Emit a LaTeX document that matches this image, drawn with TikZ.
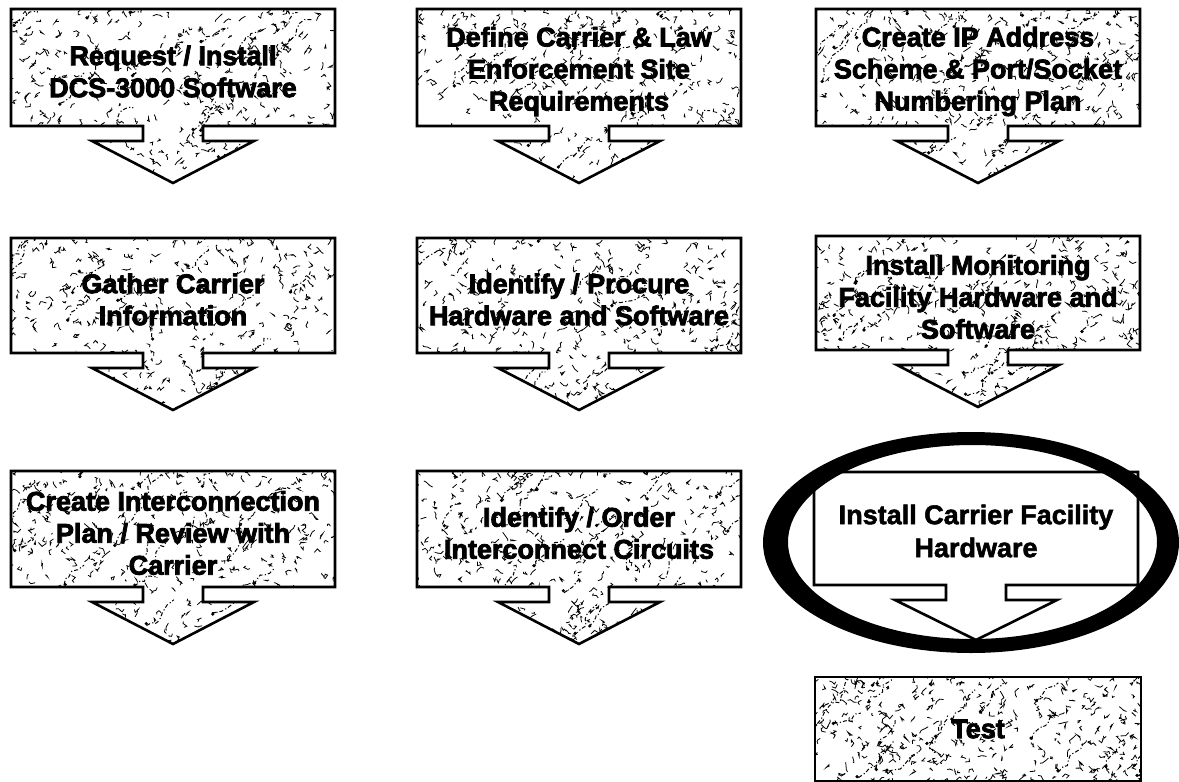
\documentclass[tikz,border=0pt]{standalone}
\usepackage{fontspec}
\newfontfamily\stepfont[BoldFeatures={FakeBold=3}]{Liberation Sans}
\newfontfamily\plainfont[BoldFeatures={FakeBold=2}]{Liberation Sans}
\newcommand\texturefill[5]{%
  \foreach \k in {1,...,#5}{%
    \pgfmathsetmacro\xa{(#1)+rnd*((#2)-(#1))}%
    \pgfmathsetmacro\ya{(#3)+rnd*((#4)-(#3))}%
    \draw[speck] (\xa,\ya) -- ++(4*rand,4*rand) -- ++(4*rand,4*rand) -- ++(3*rand,3*rand);
  }%
  \foreach \k in {1,...,22}{%
    \pgfmathsetmacro\xa{(#1)+rnd*((#2)-(#1))}%
    \pgfmathsetmacro\ya{(#3)+rnd*((#4)-(#3))}%
    \draw[vein] (\xa,\ya) -- ++(3+4*rand,-3+4*rand) -- ++(3+4*rand,-3+4*rand) -- ++(3+4*rand,-3+4*rand)
      -- ++(3+4*rand,-3+4*rand) -- ++(3+4*rand,-3+4*rand) -- ++(3+4*rand,-3+4*rand) -- ++(3+4*rand,-3+4*rand);
    \fill[black] (\xa+2*rand,\ya+2*rand) circle (0.9pt);
  }%
}
\newcommand\stepshape[5]{%
  \begin{scope}
    \clip (#2-162,#3) -- (#2+162,#3) -- (#2+162,#4) -- (#2+30,#4) -- (#2+30,#4+15) -- (#2+81,#4+15) -- (#2,#4+57) -- (#2-81,#4+15) -- (#2-30,#4+15) -- (#2-30,#4) -- (#2-162,#4) -- cycle;
    \texturefill{#2-165}{#2+165}{#3-3}{#4+60}{380}
  \end{scope}
  \draw[boxline] (#2-162,#3) -- (#2+162,#3) -- (#2+162,#4) -- (#2+30,#4) -- (#2+30,#4+15) -- (#2+81,#4+15) -- (#2,#4+57) -- (#2-81,#4+15) -- (#2-30,#4+15) -- (#2-30,#4) -- (#2-162,#4) -- cycle;
  \node[steptext] (#1) at (#2,{(#3+#4)/2+4}) {#5};
}
\begin{document}
\begin{tikzpicture}[x=0.5pt,y=-0.5pt,
  boxline/.style={line width=1.3pt, line join=miter},
  speck/.style={line width=0.4pt, black},
  vein/.style={line width=0.5pt, black, dash pattern=on 2pt off 1.2pt on 0.6pt off 1pt},
  steptext/.style={align=center, inner sep=0pt, font=\stepfont\bfseries\fontsize{13.5pt}{16pt}\selectfont},
  plaintext/.style={align=center, inner sep=0pt, font=\plainfont\bfseries\fontsize{13.5pt}{16.5pt}\selectfont}]
\useasboundingbox (0,0) rectangle (1179,782);
\fill[white] (0,0) rectangle (1179,782);
\pgfmathsetseed{4711}
% row 1
\stepshape{request}{173}{9}{126}{Request / Install\\DCS-3000 Software}
\stepshape{define}{579}{9}{126}{Define Carrier \& Law\\Enforcement Site\\Requirements}
\stepshape{ipplan}{978}{9}{126}{Create IP Address\\Scheme \& Port/Socket\\Numbering Plan}
% row 2
\stepshape{gather}{173}{238}{353}{Gather Carrier\\Information}
\stepshape{procure}{579}{238}{353}{Identify / Procure\\Hardware and Software}
\stepshape{monitor}{978}{236}{350}{Install Monitoring\\Facility Hardware and\\Software}
% row 3
\stepshape{interplan}{173}{471}{587}{Create Interconnection\\Plan / Review with\\Carrier}
\stepshape{order}{579}{471}{587}{Identify / Order\\Interconnect Circuits}
% highlighted plain step
\draw[boxline, fill=white] (976-162,472) -- (976+162,472) -- (976+162,585) -- (976+30,585) -- (976+30,600) -- (976+81,600) -- (976,640) -- (976-81,600) -- (976-30,600) -- (976-30,585) -- (976-162,585) -- cycle;
\node[plaintext] (carrierhw) at (976,531) {Install Carrier Facility\\Hardware};
% test box
\begin{scope}
  \clip (815,677) rectangle (1141,781);
  \texturefill{812}{1144}{674}{784}{340}
\end{scope}
\draw[boxline] (815,677) rectangle (1141,781);
\node[steptext] (test) at (978,729) {Test};
% ring
\fill[black, even odd rule] (971,542.5) ellipse [x radius=104pt, y radius=55.25pt]
  (972.5,542) ellipse [x radius=92.25pt, y radius=48.5pt];
\end{tikzpicture}
\end{document}
